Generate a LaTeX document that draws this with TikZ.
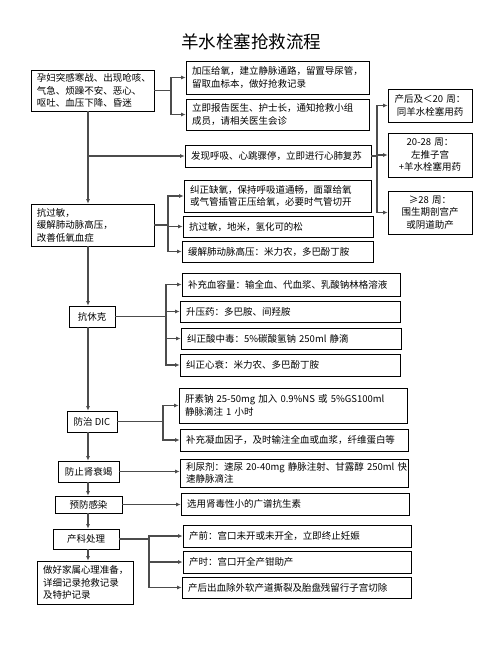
\documentclass[tikz,border=0pt]{standalone}
\usepackage{fontspec}
\setmainfont{Noto Sans CJK SC}
\usetikzlibrary{arrows.meta}
\begin{document}
\begin{tikzpicture}[x=1pt,y=-1pt,
  box/.style={draw,line width=0.7pt,inner xsep=6pt,inner ysep=0pt,font=\fontsize{9.5}{12.5}\selectfont},
  bx/.code 2 args={\pgfmathsetlengthmacro\bxtw{#1pt-12pt}\edef\bxtmp{\noexpand\pgfkeysalso{minimum width=#1pt,minimum height=#2pt,text width=\bxtw}}\bxtmp},
  sbx/.style 2 args={minimum width=#1pt,minimum height=#2pt,inner xsep=2pt},
  lft/.style={align=left},
  ctr/.style={align=center},
  ln/.style={line width=1.1pt,draw=black!70},
  arr/.style={ln,-{Latex[length=4.5pt,width=4pt]}}]
  \useasboundingbox (0,0) rectangle (502,649);
  \node (title) at (251,42) {\fontsize{17.5}{20}\selectfont 羊水栓塞抢救流程};
  \node[box,bx={123}{41},lft] (A) at (92.5,90.5) {孕妇突感寒战、出现呛咳、\\气急、烦躁不安、恶心、\\呕吐、血压下降、昏迷};
  \node[box,bx={183}{33},lft] (B1) at (277.5,77.5) {加压给氧，建立静脉通路，留置导尿管，\\留取血标本，做好抢救记录};
  \node[box,bx={183}{31},lft] (B2) at (277.5,114.5) {立即报告医生、护士长，通知抢救小组\\成员，请相关医生会诊};
  \node[box,bx={186}{22},lft] (B3) at (278,156) {发现呼吸、心跳骤停，立即进行心肺复苏};
  \node[box,bx={187}{32},lft] (B4) at (277.5,196) {纠正缺氧，保持呼吸道通畅，面罩给氧\\或气管插管正压给氧，必要时气管切开};
  \node[box,bx={190}{21},lft] (B5) at (278,226.5) {抗过敏，地米，氢化可的松};
  \node[box,bx={191}{21},lft] (B6) at (277.5,251.5) {缓解肺动脉高压：米力农，多巴酚丁胺};
  \node[box,bx={123}{42},lft] (C) at (92.5,225) {抗过敏，\\缓解肺动脉高压，\\改善低氧血症};
  \node[box,bx={84}{33},ctr] (R1) at (430,105.5) {产后及＜20 周：\\同羊水栓塞用药};
  \node[box,bx={84}{44},ctr] (R2) at (430,155) {20-28 周：\\左推子宫\\+羊水栓塞用药};
  \node[box,bx={84}{43},ctr] (R3) at (430,212.5) {≥28 周：\\围生期剖宫产\\或阴道助产};
  \node[box,sbx={46}{21}] (D) at (92,316.5) {抗休克};
  \node[box,bx={218}{23},lft] (E1) at (291,284.5) {补充血容量：输全血、代血浆、乳酸钠林格溶液};
  \node[box,bx={220}{21},lft] (E2) at (290,311.5) {升压药：多巴胺、间羟胺};
  \node[box,bx={220}{21},lft] (E3) at (291,338.5) {纠正酸中毒：5\%碳酸氢钠 250ml 静滴};
  \node[box,bx={220}{22},lft] (E4) at (290,365) {纠正心衰：米力农、多巴酚丁胺};
  \node[box,sbx={50}{21}] (F) at (92,421.5) {防治 DIC};
  \node[box,bx={228}{35},lft] (G1) at (293,405.5) {肝素钠 25-50mg 加入 0.9\%NS 或 5\%GS100ml\\静脉滴注 1 小时};
  \node[box,bx={228}{22},lft] (G2) at (294,440) {补充凝血因子，及时输注全血或血浆，纤维蛋白等};
  \node[box,sbx={61}{21}] (H) at (88.5,471.5) {防止肾衰竭};
  \node[box,bx={228}{28},lft] (I) at (294,473) {\mbox{利尿剂：速尿 20-40mg 静脉注射、甘露醇 250ml 快}\\速静脉滴注};
  \node[box,sbx={67}{17}] (J) at (88.5,504.5) {预防感染};
  \node[box,bx={228}{22},lft] (K) at (295,504) {选用肾毒性小的广谱抗生素};
  \node[box,sbx={66}{20}] (L) at (86,539) {产科处理};
  \node[box,bx={228}{22},lft] (M1) at (297,536) {产前：宫口未开或未开全，立即终止妊娠};
  \node[box,bx={228}{22},lft] (M2) at (297,562) {产时：宫口开全产钳助产};
  \node[box,bx={229}{21},lft] (M3) at (296.5,587.5) {产后出血除外软产道撕裂及胎盘残留行子宫切除};
  \node[box,bx={96}{43},lft] (N) at (85,582.5) {做好家属心理准备，\\详细记录抢救记录\\及特护记录};
  \coordinate (tr) at (88,0);
  \coordinate (fa) at (171,0);
  \coordinate (fr) at (377,0);
  \coordinate (fc) at (168,0);
  \coordinate (fd) at (166,0);
  \coordinate (fg) at (163,0);
  \coordinate (fl) at (149,0);
  \draw[arr] (A.south -| tr) -- (C.north -| tr);
  \draw[arr] (A.east) -- (A.east -| fa) |- (B1.west);
  \draw[arr] (A.east -| fa) |- (B2.west);
  \draw[arr] (B3.west -| tr) -- (B3.west);
  \draw[arr] (B3.east) -- (B3.east -| fr) |- (R1.west);
  \draw[arr] (B3.east -| fr) |- (R2.west);
  \draw[arr] (B3.east -| fr) |- (R3.west);
  \draw[arr] (C.east) -- (C.east -| fc) |- (B4.west);
  \draw[arr] (C.east -| fc) |- (B5.west);
  \draw[arr] (C.east -| fc) |- (B6.west);
  \draw[arr] (C.south -| tr) -- (D.north -| tr);
  \draw[arr] (D.east) -- (D.east -| fd) |- (E1.west);
  \draw[arr] (D.east -| fd) |- (E2.west);
  \draw[arr] (D.east -| fd) |- (E3.west);
  \draw[arr] (D.east -| fd) |- (E4.west);
  \draw[arr] (D.south -| tr) -- (F.north -| tr);
  \draw[arr] (F.east) -- (F.east -| fg) |- (G1.west);
  \draw[arr] (F.east -| fg) |- (G2.west);
  \draw[arr] (F.south -| tr) -- (H.north -| tr);
  \draw[arr] (H.east) -- (H.east -| I.west);
  \draw[arr] (H.south -| tr) -- (J.north -| tr);
  \draw[arr] (J.east) -- (J.east -| K.west);
  \draw[arr] (J.south -| tr) -- (L.north -| tr);
  \draw[arr] (L.east) -- (L.east -| fl) |- (M1.west);
  \draw[arr] (L.east -| fl) |- (M2.west);
  \draw[arr] (L.east -| fl) |- (M3.west);
  \draw[arr] (L.south -| tr) -- (N.north -| tr);
\end{tikzpicture}
\end{document}
